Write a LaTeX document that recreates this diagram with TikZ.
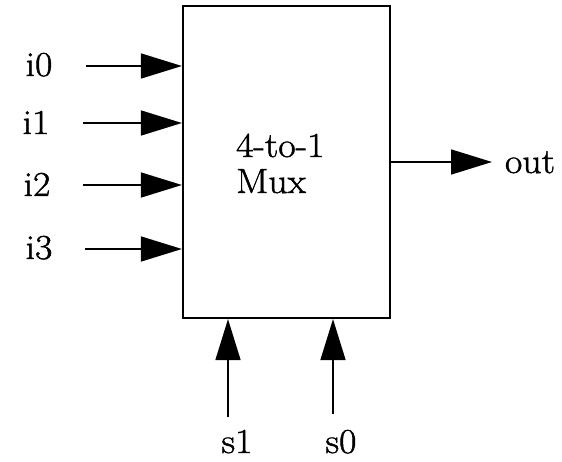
\documentclass[tikz,border=0pt]{standalone}
\usepackage{fontspec}
\setmainfont{Latin Modern Roman}[FakeStretch=1.08,FakeBold=1.3]
\usetikzlibrary{arrows.meta}
\begin{document}
\begin{tikzpicture}[x=1pt,y=-1pt,
  lbl/.style={font=\fontsize{35}{40}\selectfont, inner sep=0pt},
  sig/.style={line width=1.6pt, -{Triangle[length=41pt,width=25pt]}},
  muxbox/.style={draw, line width=2.2pt, minimum width=207pt, minimum height=312pt, inner sep=0pt}]
\useasboundingbox (0,0) rectangle (562,462);
\node[muxbox] (mux) at (286.5,162) {};
\node[lbl, anchor=base west] (t1) at (236,157) {4-to-1};
\node[lbl, anchor=base west] (t2) at (236,193) {Mux};
% input labels
\node[lbl, anchor=base] (i0) at (39,76) {i0};
\node[lbl, anchor=base] (i1) at (36,134) {i1};
\node[lbl, anchor=base] (i2) at (37,196) {i2};
\node[lbl, anchor=base] (i3) at (39,259) {i3};
\node[lbl, anchor=base] (out) at (530,173) {out};
\node[lbl, anchor=base] (s1) at (237,453) {s1};
\node[lbl, anchor=base] (s0) at (341,453) {s0};
% free ends
\coordinate (c0) at (86,66);
\coordinate (c1) at (83,123);
\coordinate (c2) at (83,185);
\coordinate (c3) at (85,249);
\coordinate (co) at (492,162);
\coordinate (cs1) at (228,417);
\coordinate (cs0) at (333,414);
\draw[sig] (c0) -- (c0 -| mux.west);
\draw[sig] (c1) -- (c1 -| mux.west);
\draw[sig] (c2) -- (c2 -| mux.west);
\draw[sig] (c3) -- (c3 -| mux.west);
\draw[sig] (co -| mux.east) -- (co);
\draw[sig] (cs1) -- (cs1 |- mux.south);
\draw[sig] (cs0) -- (cs0 |- mux.south);
\end{tikzpicture}
\end{document}
